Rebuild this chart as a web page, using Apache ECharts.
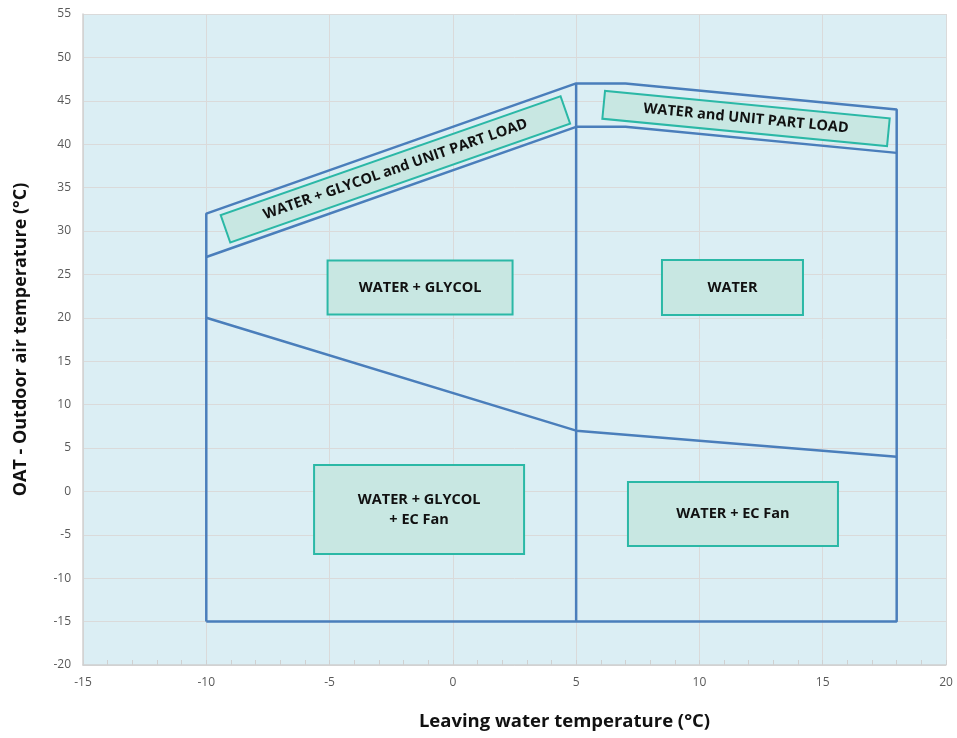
<!DOCTYPE html>
<html>
<head>
<meta charset="utf-8">
<script src="https://cdn.jsdelivr.net/npm/echarts@6/dist/echarts.min.js"></script>
<style>
html,body{margin:0;padding:0;background:#fff;}
#chart{width:957px;height:738px;}
</style>
</head>
<body>
<div id="chart"></div>
<script>
// Envelope lines (x = leaving water temp, y = outdoor air temp)
const outerEnvelope = [[-10,-15],[-10,32],[5,47],[7,47],[18,44],[18,-15],[-10,-15]];
const dividerAt5 = [[5,-15],[5,47]];
const partLoadLine = [[-10,27],[5,42],[7,42],[18,39]];
const ecFanLine = [[-10,20],[5,7],[18,4]];

// Region labels: text and anchor in data coordinates
const regionTexts = ['WATER + GLYCOL and UNIT PART LOAD','WATER and UNIT PART LOAD','WATER + GLYCOL','WATER','WATER + GLYCOL\n+ EC Fan','WATER + EC Fan'];
const regionX = [-2.33, 11.89, -1.33, 11.34, -1.37, 11.36];
const regionY = [37.1, 42.96, 23.5, 23.5, -2.08, -2.6];

const xTicks = {min:-15, max:20, interval:5};
const yTicks = {min:-20, max:55, interval:5};

// label box styles (presentation only)
const boxStyles = [
  {width:358, height:27, rotate:19.25},
  {width:284, height:26, rotate:-5.5},
  {width:183, height:52, rotate:0},
  {width:139, height:53, rotate:0},
  {width:208, height:87, rotate:0, lines:2},
  {width:208, height:62, rotate:0}
];

const lineColor = '#4a7ebb';
const font = 'Open Sans';

function lineSeries(data){
  return {type:'line', data:data, symbol:'none', silent:true, animation:false,
    lineStyle:{color:lineColor, width:2.5}, z:3};
}

const labelData = regionTexts.map((t,i)=>{
  const s = boxStyles[i];
  const lh = s.lines ? 20 : s.height;
  const pv = s.lines ? (s.height - s.lines*20)/2 : 0;
  return {
    value:[regionX[i], regionY[i]],
    label:{
      show:true, position:'inside', formatter:t, rotate:s.rotate,
      width:s.width, lineHeight:lh, padding:[pv,0,pv,0],
      align:'center', verticalAlign:'middle',
      backgroundColor:'#c8e7e2', borderColor:'#2bb8a6', borderWidth:2,
      color:'#111', fontFamily:font, fontWeight:'bold', fontSize:14.5,
      textBorderWidth:0
    }
  };
});

const chart = echarts.init(document.getElementById('chart'), null, {renderer:'canvas'});
chart.setOption({
  animation:false,
  backgroundColor:'#ffffff',
  grid:{left:83, right:11, top:14, bottom:73, show:true, backgroundColor:'#dbeef4', borderWidth:0},
  xAxis:{
    type:'value', min:xTicks.min, max:xTicks.max, interval:xTicks.interval,
    name:'Leaving water temperature (°C)', nameLocation:'middle', nameGap:47,
    nameTextStyle:{fontFamily:font, fontWeight:'bold', fontSize:18.5, color:'#111', padding:[0,0,0,100]},
    axisLine:{show:true, onZero:false, lineStyle:{color:'#d0d0d0', width:1.5}},
    axisTick:{show:true, inside:true, length:5, lineStyle:{color:'#d0d0d0'}},
    minorTick:{show:true, splitNumber:5, length:5, lineStyle:{color:'#d0d0d0'}},
    axisLabel:{fontFamily:font, fontSize:12, color:'#595959', margin:12},
    splitLine:{show:true, lineStyle:{color:'#dadada', width:1}}
  },
  yAxis:{
    type:'value', min:yTicks.min, max:yTicks.max, interval:yTicks.interval,
    name:'OAT - Outdoor air temperature (°C)', nameLocation:'middle', nameGap:53,
    nameTextStyle:{fontFamily:font, fontWeight:'bold', fontSize:18, color:'#111'},
    axisLine:{show:true, onZero:false, lineStyle:{color:'#d0d0d0', width:1.5}},
    axisTick:{show:false},
    axisLabel:{fontFamily:font, fontSize:12, color:'#595959', margin:12},
    splitLine:{show:true, lineStyle:{color:'#dadada', width:1}}
  },
  series:[
    lineSeries(outerEnvelope),
    lineSeries(dividerAt5),
    lineSeries(partLoadLine),
    lineSeries(ecFanLine),
    {type:'scatter', data:labelData, symbolSize:1, itemStyle:{color:'rgba(0,0,0,0)', opacity:1}, silent:true, z:5}
  ]
});
</script>
</body>
</html>
